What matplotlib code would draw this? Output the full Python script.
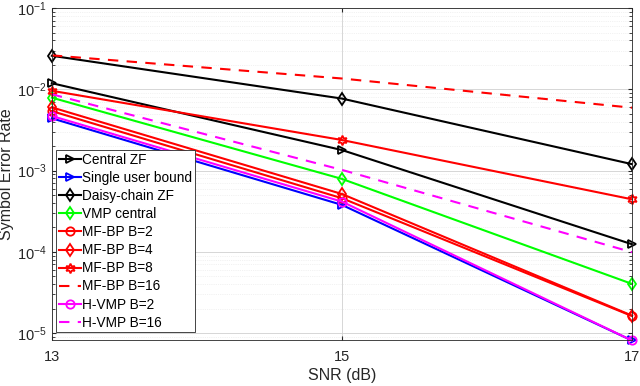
import numpy as np
import matplotlib.pyplot as plt
from matplotlib.ticker import LogLocator, NullFormatter

# SNR points and symbol error rates
snr = [13, 15, 17]
central_zf = [0.0119, 0.00179, 0.000124]
single_user = [0.0044, 0.000378, 8.1e-6]
daisy_zf = [0.0259, 0.0077, 0.00120]
vmp_central = [0.0079, 0.00079, 4.03e-5]
mfbp_b2 = [0.0054, 0.000457, 1.62e-5]
mfbp_b4 = [0.0060, 0.000515, 1.64e-5]
mfbp_b8 = [0.0096, 0.00238, 0.000443]
mfbp_b16 = [0.0262, 0.0136, 0.00594]
hvmp_b2 = [0.0047, 0.000415, 8.1e-6]
hvmp_b16 = [0.0087, 0.00102, 9.9e-5]

plt.rcParams['font.family'] = ['Liberation Sans', 'DejaVu Sans']

fig = plt.figure(figsize=(6.4, 3.86), dpi=100)
ax = fig.add_axes([0.081, 0.119, 0.9065, 0.86])

hexagram = (6, 1, 0)
lw = 1.5
ms = 6
magenta = '#ff00ff'
green = '#00ff00'

def curve(y, color, label, marker=None, ls='-', size=ms):
    ax.plot(snr, y, color=color, lw=lw, ls=ls, marker=marker, ms=size, mfc='none',
            mew=1.3, label=label, clip_on=False)

curve(central_zf, 'k', 'Central ZF', '>')
curve(single_user, 'b', 'Single user bound', '>')
curve(daisy_zf, 'k', 'Daisy-chain ZF', 'd')
curve(vmp_central, green, 'VMP central', 'd')
curve(mfbp_b2, 'r', 'MF-BP B=2', 'o')
curve(mfbp_b4, 'r', 'MF-BP B=4', 'd')
curve(mfbp_b8, 'r', 'MF-BP B=8', hexagram, size=ms + 1)
curve(mfbp_b16, 'r', 'MF-BP B=16', ls=(0, (5, 4)))
curve(hvmp_b2, magenta, 'H-VMP B=2', 'o')
curve(hvmp_b16, magenta, 'H-VMP B=16', ls=(0, (5, 4)))

ax.set_yscale('log')
ax.set_xlim(13, 17)
ax.set_ylim(8.2e-6, 1e-1)
ax.set_xticks([13, 15, 17])
ax.yaxis.set_major_locator(LogLocator(base=10, numticks=10))
ax.yaxis.set_minor_locator(LogLocator(base=10, subs=np.arange(2, 10), numticks=20))
ax.yaxis.set_minor_formatter(NullFormatter())

ax.grid(True, which='major', color='#d0d0d0', lw=0.6)
ax.grid(True, which='minor', axis='y', color='#e6e6e6', lw=0.5, ls=':')
ax.tick_params(which='both', direction='in', top=True, right=True, colors='#262626',
               labelsize=10.5, length=3)
ax.tick_params(axis='x', pad=7)
ax.tick_params(which='minor', length=2)
for s in ax.spines.values():
    s.set_color('#262626')
    s.set_linewidth(0.6)

ax.set_xlabel('SNR (dB)', fontsize=11.5, color='#262626', labelpad=3)
ax.set_ylabel('Symbol Error Rate', fontsize=11.5, color='#262626', labelpad=2)

leg = ax.legend(loc='upper left', bbox_to_anchor=(0.008, 0.572), fontsize=9.8,
                handlelength=1.6, handletextpad=0.1, borderpad=0.2, labelspacing=0.3,
                borderaxespad=0, fancybox=False, framealpha=1)
leg.get_frame().set_edgecolor('#262626')
leg.get_frame().set_linewidth(0.6)

fig.savefig('out.png', dpi=100)
